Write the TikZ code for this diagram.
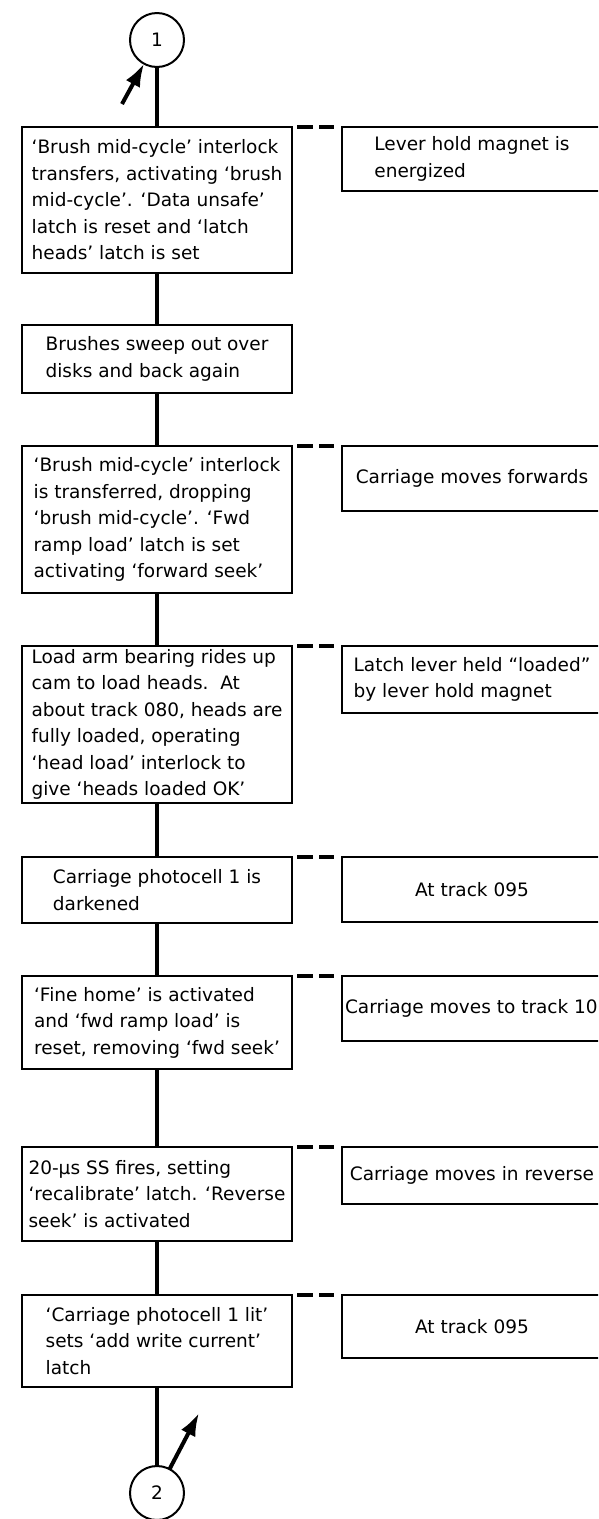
\documentclass[tikz,border=0pt]{standalone}
\usepackage{fontspec}
\setmainfont{DejaVu Sans}
\usepackage{tikz}
\usetikzlibrary{arrows.meta, positioning}

\begin{document}
\begin{tikzpicture}[
  x=1pt, y=-1pt,
  font=\fontsize{18.5}{26.5}\selectfont,
  node distance=53pt and 50pt,
  box/.style={draw, line width=2pt, align=left, minimum width=270pt, inner xsep=4pt, inner ysep=1pt, outer sep=0pt},
  note/.style={draw, line width=2pt, align=left, minimum width=260pt, inner xsep=3pt, inner ysep=1pt, outer sep=0pt, anchor=north west},
  conn/.style={draw, circle, line width=2pt, minimum size=54pt, inner sep=0pt, outer sep=0pt},
  flow/.style={line width=4pt},
  link/.style={line width=4pt, dash pattern=on 16pt off 6pt on 15pt off 14pt, dash phase=46pt},
  pointer/.style={line width=4pt, -{Latex[length=23pt, width=16pt]}}
]
\useasboundingbox (0,0) rectangle (598,1519);
\clip (0,0) rectangle (598,1519);

% main column
\node[box, minimum height=146pt] (b1) at (157,200) {‘Brush mid-cycle’ interlock\\transfers, activating ‘brush\\mid-cycle’. ‘Data unsafe’\\latch is reset and ‘latch\\heads’ latch is set};
\node[box, minimum height=68pt, below=52pt of b1] (b2) {Brushes sweep out over\\disks and back again};
\node[box, minimum height=147pt, below=of b2] (b3) {‘Brush mid-cycle’ interlock\\is transferred, dropping\\‘brush mid-cycle’. ‘Fwd\\ramp load’ latch is set\\activating ‘forward seek’};
\node[box, minimum height=157pt, below=of b3] (b4) {Load arm bearing rides up\\cam to load heads.\ \ At\\about track 080, heads are\\fully loaded, operating\\‘head load’ interlock to\\give ‘heads loaded OK’};
\node[box, minimum height=66pt, below=54pt of b4] (b5) {Carriage photocell 1 is\\darkened};
\node[box, minimum height=93pt, below=of b5] (b6) {‘Fine home’ is activated\\and ‘fwd ramp load’ is\\reset, removing ‘fwd seek’};
\node[box, minimum height=94pt, below=78pt of b6] (b7) {20-µs SS fires, setting\\‘recalibrate’ latch. ‘Reverse\\seek’ is activated};
\node[box, minimum height=92pt, below=54pt of b7] (b8) {‘Carriage photocell 1 lit’\\sets ‘add write current’\\latch};

\node[conn, above=60pt of b1] (c1) {1};
\node[conn, below=79pt of b8] (c2) {2};

% side notes
\node[note, minimum height=64pt, right=of b1.north east, anchor=north west] (n1) {Lever hold magnet is\\energized};
\node[note, minimum height=65pt, right=of b3.north east, anchor=north west] (n3) {Carriage moves forwards};
\node[note, minimum height=67pt, right=of b4.north east, anchor=north west] (n4) {Latch lever held “loaded”\\by lever hold magnet};
\node[note, minimum height=65pt, right=of b5.north east, anchor=north west] (n5) {At track 095};
\node[note, minimum height=65pt, right=of b6.north east, anchor=north west] (n6) {Carriage moves to track 100};
\node[note, minimum height=57pt, right=of b7.north east, anchor=north west] (n7) {Carriage moves in reverse};
\node[note, minimum height=63pt, right=of b8.north east, anchor=north west] (n8) {At track 095};

\coordinate (a1) at (122,104);
\coordinate (a2) at (199,1413);

\draw[flow] (c1) -- (b1);
\draw[flow] (b1) -- (b2);
\draw[flow] (b2) -- (b3);
\draw[flow] (b3) -- (b4);
\draw[flow] (b4) -- (b5);
\draw[flow] (b5) -- (b6);
\draw[flow] (b6) -- (b7);
\draw[flow] (b7) -- (b8);
\draw[flow] (b8) -- (c2);

\draw[pointer] (a1) -- (c1);
\draw[pointer] (c2) -- (a2);

\foreach \i in {1,3,4,5,6,7,8}
  \draw[link] (b\i.north east) -- (n\i.north west);
\end{tikzpicture}
\end{document}
